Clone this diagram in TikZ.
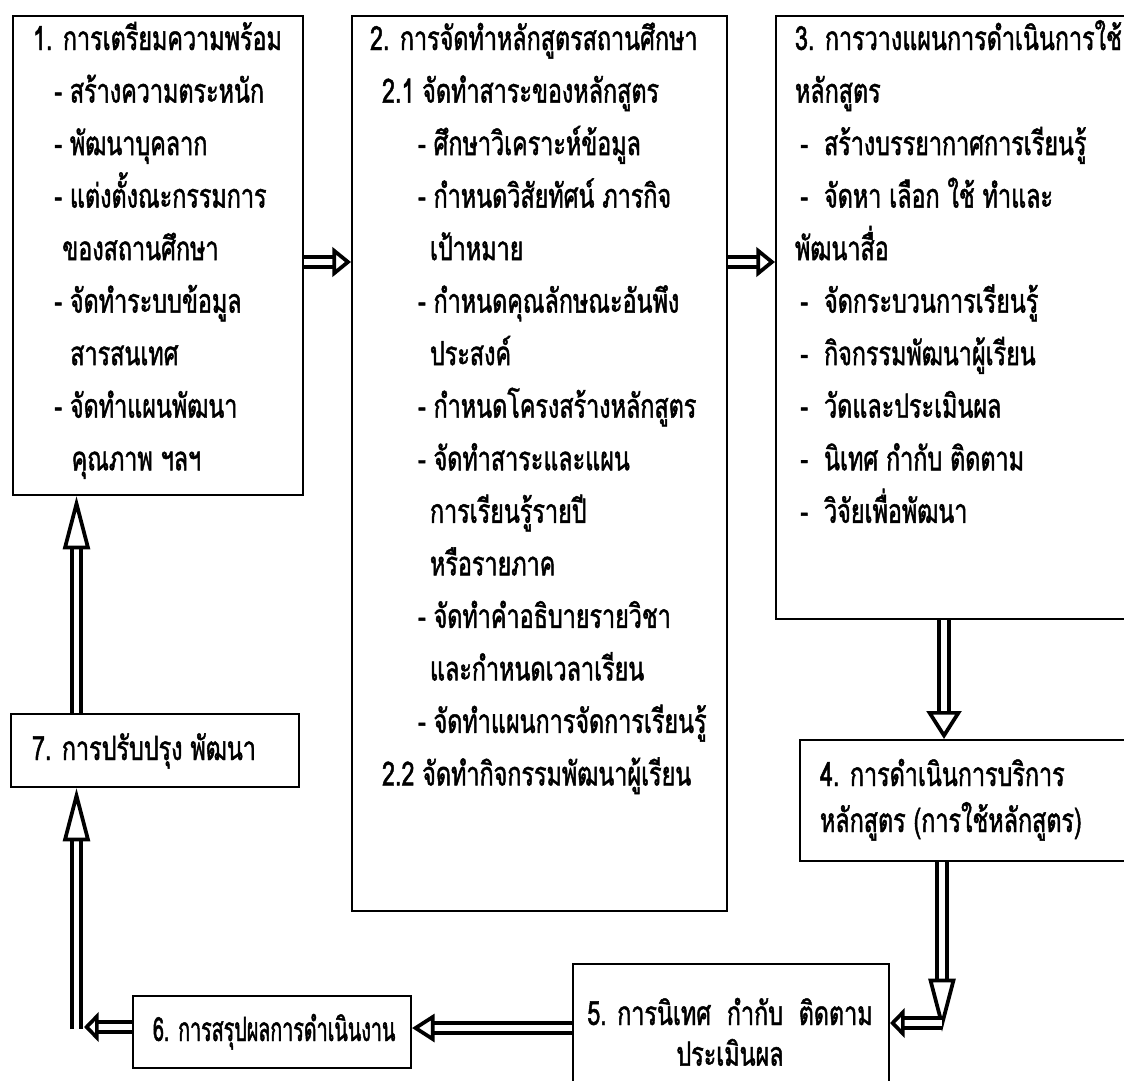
\documentclass[tikz,border=0pt]{standalone}
\usepackage{fontspec}
\newfontfamily\thai[Script=Thai,FakeStretch=0.7,FakeBold=1.4]{Loma}
\newfontfamily\thainarrow[Script=Thai,FakeStretch=0.59,FakeBold=1.4]{Loma}
\usetikzlibrary{arrows.meta}
\begin{document}
\begin{tikzpicture}[x=0.75pt,y=-0.75pt,
  box/.style={draw,line width=1.5pt,inner sep=0pt,anchor=north west},
  txt/.style={inner sep=0pt,outer sep=0pt,anchor=north west,align=left,
    font=\thai\fontsize{25}{39.4}\selectfont},
  dbl/.style={draw,line width=3.1pt,double=white,double distance=4.2pt},
  harr/.style={dbl,-{Triangle[open,fill=white,length=14pt,width=22pt,line width=2.8pt]}},
  midarr/.style={dbl,-{Triangle[open,fill=white,length=21pt,width=26pt,line width=2.8pt]}},
  longarr/.style={dbl,-{Triangle[open,fill=white,length=40pt,width=20pt,line width=2.8pt]}},
  shortarr/.style={dbl,-{Triangle[open,fill=white,length=11pt,width=22pt,line width=2.8pt]}},
  leftarr/.style={dbl,-{Triangle[open,fill=white,length=17pt,width=21pt,line width=2.8pt]}}
]
\useasboundingbox (0,0) rectangle (1124,1081);
\fill[white] (0,0) rectangle (1124,1081);

% boxes
\node[box,minimum width=217.5pt,minimum height=359.25pt] (b1) at (12,15) {};
\node[box,minimum width=281.25pt,minimum height=671.25pt] (b2) at (351,15) {};
\node[box,minimum width=281.25pt,minimum height=452.25pt] (b3) at (775,15) {};
\node[box,minimum width=263.25pt,minimum height=90.75pt] (b4) at (799,739) {};
\node[box,minimum width=237pt,minimum height=102.75pt] (b5) at (572,963) {};
\node[box,minimum width=208.5pt,minimum height=54pt] (b6) at (132,995) {};
\node[box,minimum width=216pt,minimum height=54.75pt] (b7) at (10,713) {};

% texts
\node[txt] (t1) at (33,10) {\rule{0pt}{30pt}1. การเตรียมความพร้อม\\
\hspace*{16pt}- สร้างความตระหนัก\\
\hspace*{16pt}- พัฒนาบุคลาก\\
\hspace*{16pt}- แต่งตั้งณะกรรมการ\\
\hspace*{22pt}ของสถานศึกษา\\
\hspace*{16pt}- จัดทำระบบข้อมูล\\
\hspace*{28pt}สารสนเทศ\\
\hspace*{16pt}- จัดทำแผนพัฒนา\\
\hspace*{29pt}คุณภาพ ฯลฯ};

\node[txt] (t2) at (370,10) {\rule{0pt}{30pt}2. การจัดทำหลักสูตรสถานศึกษา\\
\hspace*{9pt}2.1 จัดทำสาระของหลักสูตร\\
\hspace*{36pt}- ศึกษาวิเคราะห์ข้อมูล\\
\hspace*{36pt}- กำหนดวิสัยทัศน์ ภารกิจ\\
\hspace*{45pt}เป้าหมาย\\
\hspace*{36pt}- กำหนดคุณลักษณะอันพึง\\
\hspace*{45pt}ประสงค์\\
\hspace*{36pt}- กำหนดโครงสร้างหลักสูตร\\
\hspace*{36pt}- จัดทำสาระและแผน\\
\hspace*{45pt}การเรียนรู้รายปี\\
\hspace*{45pt}หรือรายภาค\\
\hspace*{36pt}- จัดทำคำอธิบายรายวิชา\\
\hspace*{45pt}และกำหนดเวลาเรียน\\
\hspace*{36pt}- จัดทำแผนการจัดการเรียนรู้\\
\hspace*{9pt}2.2 จัดทำกิจกรรมพัฒนาผู้เรียน};

\node[txt] (t3) at (795,10) {\rule{0pt}{30pt}3. การวางแผนการดำเนินการใช้\\
หลักสูตร\\
\hspace*{4pt}-\hspace*{12pt}สร้างบรรยากาศการเรียนรู้\\
\hspace*{4pt}-\hspace*{12pt}จัดหา เลือก ใช้ ทำและ\\
พัฒนาสื่อ\\
\hspace*{4pt}-\hspace*{12pt}จัดกระบวนการเรียนรู้\\
\hspace*{4pt}-\hspace*{12pt}กิจกรรมพัฒนาผู้เรียน\\
\hspace*{4pt}-\hspace*{12pt}วัดและประเมินผล\\
\hspace*{4pt}-\hspace*{12pt}นิเทศ กำกับ ติดตาม\\
\hspace*{4pt}-\hspace*{12pt}วิจัยเพื่อพัฒนา};

\node[txt,font=\thai\fontsize{25}{34.5}\selectfont] (t4) at (820,746) {\rule{0pt}{30pt}4. การดำเนินการบริการ\\
หลักสูตร (การใช้หลักสูตร)};

\node[txt,anchor=north,align=center,font=\thai\fontsize{25}{30.5}\selectfont] (t5) at (730,985) {\rule{0pt}{30pt}5. การนิเทศ\ \ กำกับ\ \ ติดตาม\\
ประเมินผล};

\node[txt,font=\thainarrow\fontsize{25}{39.4}\selectfont] (t6) at (153,1001) {\rule{0pt}{30pt}6. การสรุปผลการดำเนินงาน};
\node[txt] (t7) at (32,720) {\rule{0pt}{30pt}7. การปรับปรุง พัฒนา};

% arrows
\coordinate (y12) at (0,262);
\draw[harr] (b1.east |- y12) -- (b2.west |- y12);
\draw[harr] (b2.east |- y12) -- (b3.west |- y12);
\coordinate (x34) at (944,0);
\draw[midarr] (b3.south -| x34) -- (b4.north -| x34);
\coordinate (c45) at (942,1032);
\draw[longarr] (b4.south -| c45) -- (c45);
\coordinate (c5) at (942,1023);
\draw[shortarr] (c5) -- (b5.east |- c5);
\coordinate (y56) at (0,1028);
\draw[leftarr] (b5.west |- y56) -- (b6.east |- y56);
\coordinate (c67) at (84,1027);
\draw[shortarr] (b6.west |- c67) -- (c67);
\coordinate (c67b) at (76.5,1029);
\draw[longarr] (c67b) -- (b7.south -| c67b);
\coordinate (x71) at (76.5,0);
\draw[longarr] (b7.north -| x71) -- (b1.south -| x71);
\end{tikzpicture}
\end{document}
